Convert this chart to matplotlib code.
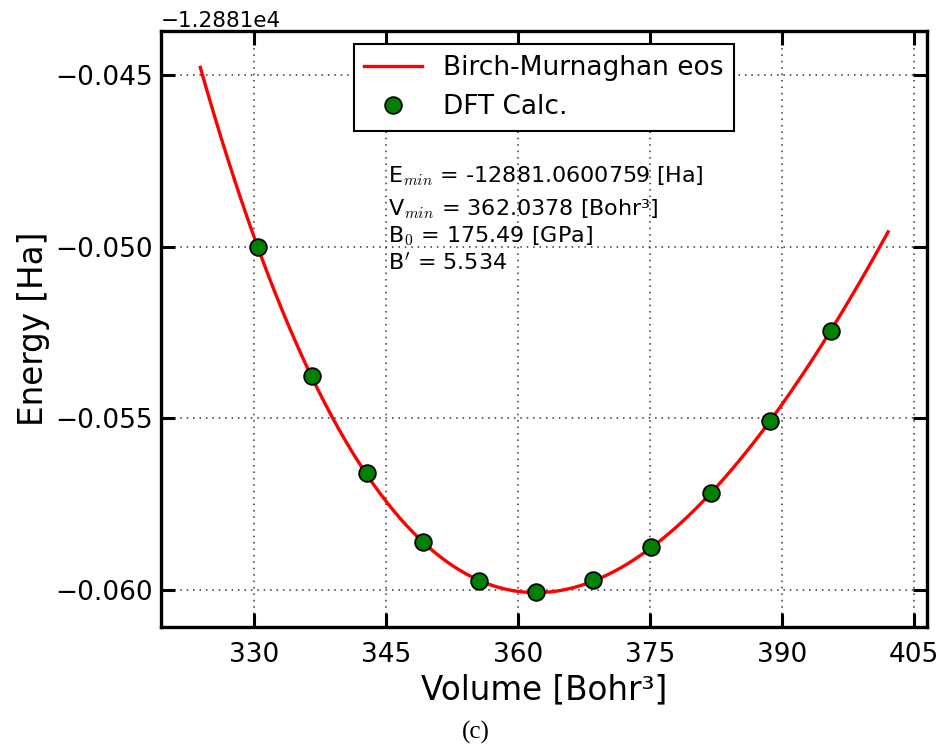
import numpy as np
import matplotlib
matplotlib.use("Agg")
import matplotlib.pyplot as plt

# DFT calculation points (energy relative to offset -12881 Ha)
volumes = [330.39, 336.53, 342.78, 349.15, 355.55, 362.03, 368.48, 375.11, 381.90, 388.65, 395.55]
energies_rel = [-0.05000, -0.05376, -0.05660, -0.05859, -0.05974, -0.06005,
                -0.05971, -0.05874, -0.05718, -0.05507, -0.05245]
offset = -12881.0

# Birch-Murnaghan fit parameters shown in the chart
E_min = -12881.0600759   # Ha
V_min = 362.0378         # Bohr^3
B0_GPa = 175.49          # GPa
B_prime = 5.534
fit_range = [323.87, 402.07]

GPA_PER_HA_BOHR3 = 29421.02648438959
B0 = B0_GPa / GPA_PER_HA_BOHR3
Vfit = np.linspace(fit_range[0], fit_range[1], 400)
eta = (V_min / Vfit) ** (2.0 / 3.0)
Efit = E_min + 9.0 * V_min * B0 / 16.0 * ((eta - 1) ** 3 * B_prime + (eta - 1) ** 2 * (6 - 4 * eta))

plt.rcParams['font.family'] = ['DejaVu Sans']
plt.rcParams['mathtext.fontset'] = 'cm'

fig = plt.figure(figsize=(9.4, 7.47), dpi=100)
ax = fig.add_axes([0.1713, 0.1606, 0.8149, 0.7979])

ax.plot(Vfit, Efit, color='red', lw=2.4, label='Birch-Murnaghan eos', zorder=3)
ax.plot(volumes, np.array(energies_rel) + offset, 'o', color='green', mec='black', mew=1.3,
        ms=12, label='DFT Calc.', zorder=4)

ax.set_xlim(319.4, 406.5)
ax.set_ylim(offset - 0.061078, offset - 0.04372)
ax.set_xticks([330, 345, 360, 375, 390, 405])
ax.set_yticks([offset - 0.060, offset - 0.055, offset - 0.050, offset - 0.045])

ax.grid(True, color='#333333', linestyle=(0, (1, 3.2)), linewidth=1.1)
ax.tick_params(direction='in', length=10, width=2.2, labelsize=19, top=True, right=True)
ax.tick_params(axis='x', pad=11)
ax.tick_params(axis='y', pad=6)
for s in ax.spines.values():
    s.set_linewidth(2.4)
ax.yaxis.get_offset_text().set_fontsize(15.5)

ax.set_xlabel('Volume [Bohr³]', fontsize=23.5, labelpad=4)
ax.set_ylabel('Energy [Ha]', fontsize=23.5, labelpad=4)

leg = ax.legend(loc='upper center', fontsize=19, numpoints=1, fancybox=False,
                framealpha=1, edgecolor='black', handlelength=2.2, borderaxespad=0.5)
leg.get_frame().set_linewidth(1.5)

txts = [
    ('E$_{min}$ = -12881.0600759 [Ha]', 0.7466),
    ('V$_{min}$ = 362.0378 [Bohr³]', 0.6913),
    ('B$_0$ = 175.49 [GPa]', 0.646),
    ("B$'$ = 5.534", 0.599),
]
for t, y in txts:
    ax.text(0.296, y, t, transform=ax.transAxes, fontsize=16, va='baseline', ha='left')

fig.text(0.506, 0.019, '(c)', fontsize=18, family='Liberation Serif', ha='center', va='center')

fig.savefig('out.png', dpi=100)
